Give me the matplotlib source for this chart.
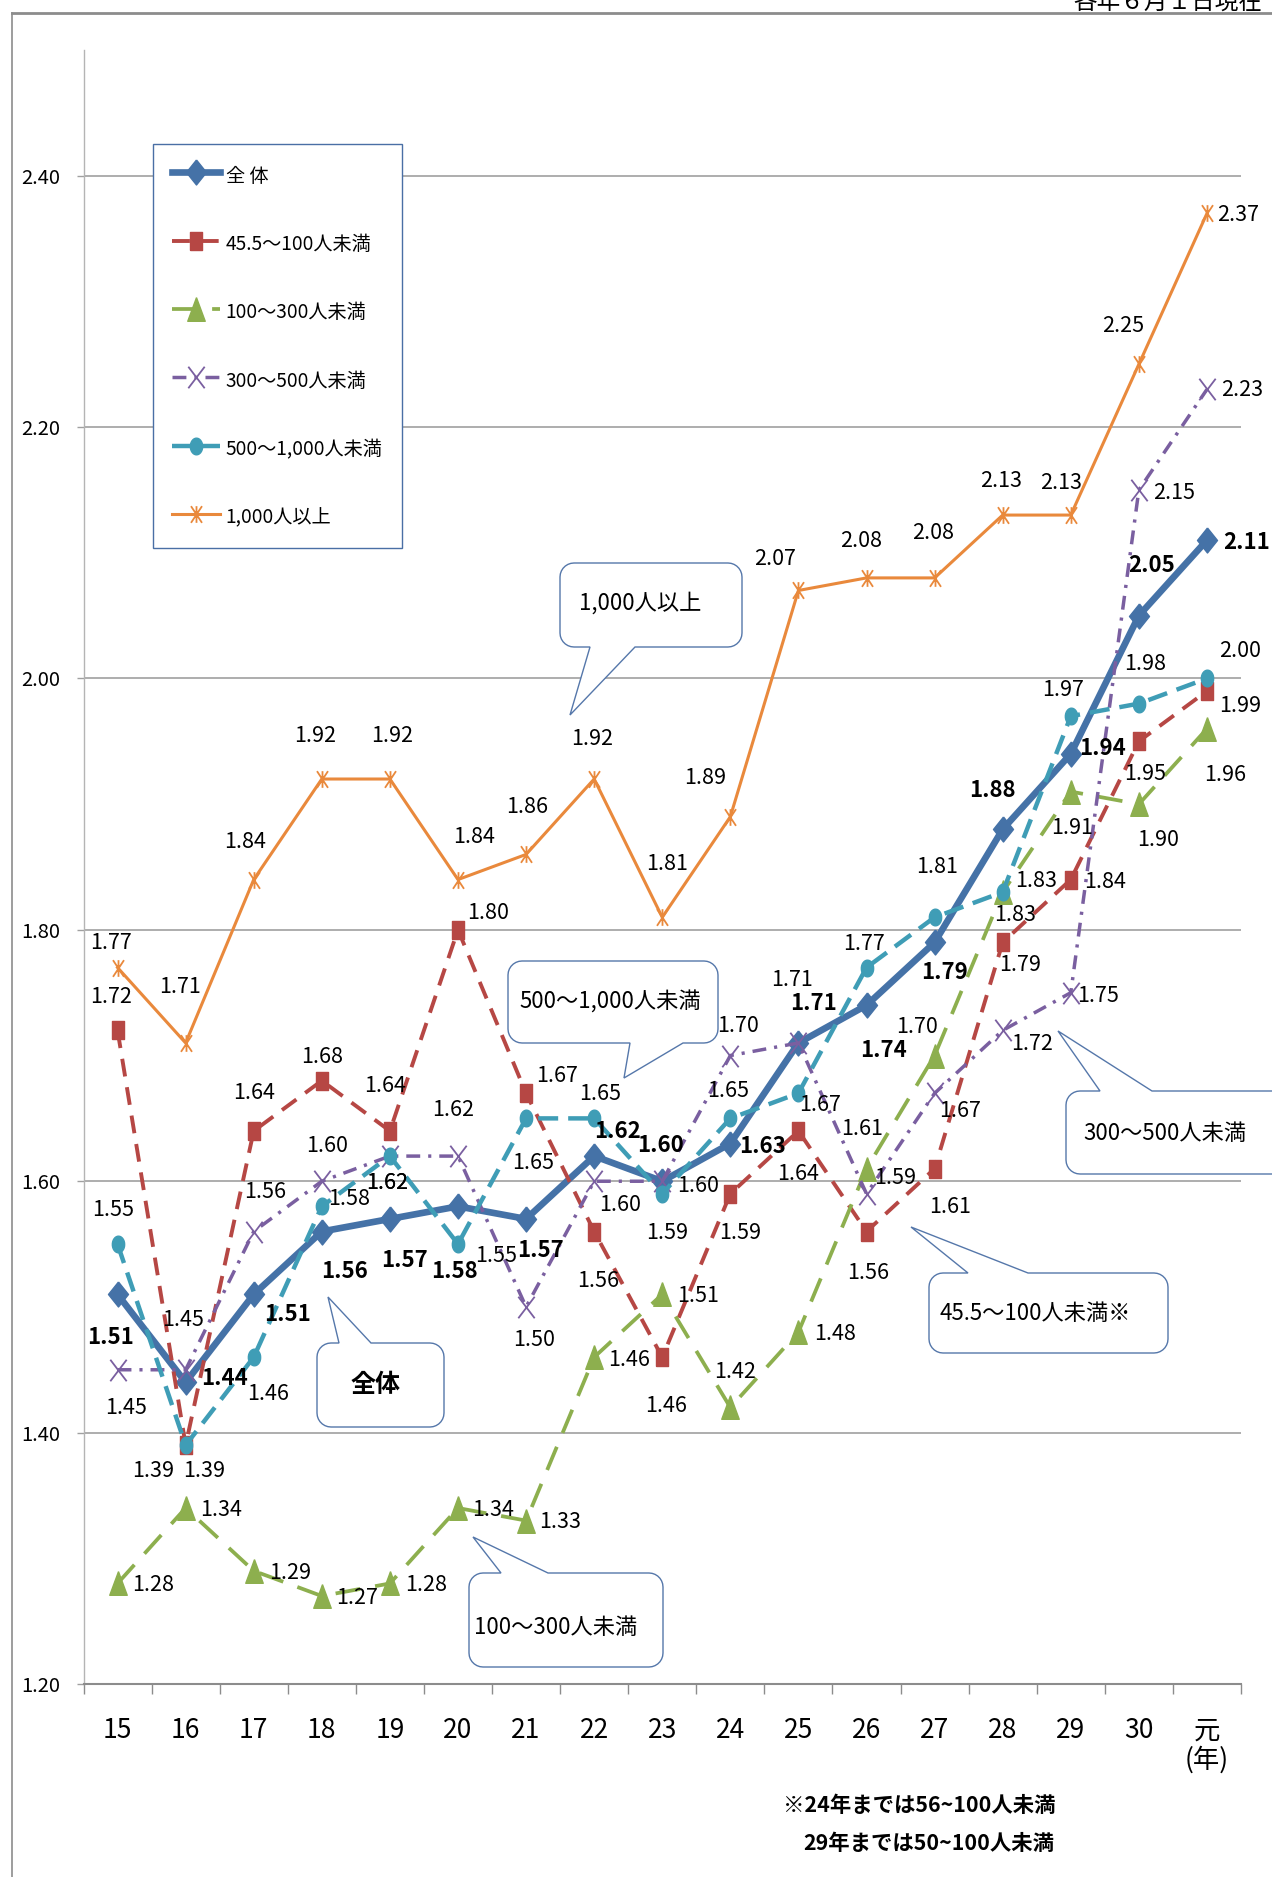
# -*- coding: utf-8 -*-
# employment rate by company size, line chart with callouts
import numpy as np
import matplotlib
matplotlib.use("Agg")
import matplotlib.pyplot as plt
from matplotlib.path import Path
from matplotlib.patches import Polygon
from matplotlib.lines import Line2D

plt.rcParams['font.family'] = ['Noto Sans CJK JP', 'DejaVu Sans']

# %% data
years = ['15', '16', '17', '18', '19', '20', '21', '22', '23', '24',
         '25', '26', '27', '28', '29', '30', '元\n(年)']
total = [1.51, 1.44, 1.51, 1.56, 1.57, 1.58, 1.57, 1.62, 1.60, 1.63,
         1.71, 1.74, 1.79, 1.88, 1.94, 2.05, 2.11]
s45 = [1.72, 1.39, 1.64, 1.68, 1.64, 1.80, 1.67, 1.56, 1.46, 1.59,
       1.64, 1.56, 1.61, 1.79, 1.84, 1.95, 1.99]
s100 = [1.28, 1.34, 1.29, 1.27, 1.28, 1.34, 1.33, 1.46, 1.51, 1.42,
        1.48, 1.61, 1.70, 1.83, 1.91, 1.90, 1.96]
s300 = [1.45, 1.45, 1.56, 1.60, 1.62, 1.62, 1.50, 1.60, 1.60, 1.70,
        1.71, 1.59, 1.67, 1.72, 1.75, 2.15, 2.23]
s500 = [1.55, 1.39, 1.46, 1.58, 1.62, 1.55, 1.65, 1.65, 1.59, 1.65,
        1.67, 1.77, 1.81, 1.83, 1.97, 1.98, 2.00]
s1000 = [1.77, 1.71, 1.84, 1.92, 1.92, 1.84, 1.86, 1.92, 1.81, 1.89,
         2.07, 2.08, 2.08, 2.13, 2.13, 2.25, 2.37]
names = ['全 体', '45.5～100人未満', '100～300人未満', '300～500人未満',
         '500～1,000人未満', '1,000人以上']
yticks = [1.20, 1.40, 1.60, 1.80, 2.00, 2.20, 2.40]

# label offsets (pixels, dy downward)
off_total = [(-7, 43), (39, -4), (34, 20), (23, 40), (15, 42), (-4, 65), (14, 32), (23, -25), (-2, -36),
             (32, 3), (15, -39), (17, 45), (10, 30), (-10, -39), (32, -5), (13, -50), (40, 2)]
off_45 = [(-6, -33), (-33, 26), (0, -38), (0, -24), (-5, -45), (30, -17), (31, -17), (4, 49), (4, 49),
          (10, 39), (0, 43), (2, 41), (15, 38), (17, 23), (34, 2), (6, 33), (33, 15)]
off_100 = [(36, 2), (35, 2), (36, 2), (35, 2), (36, 2), (35, 2), (34, 1), (35, 3), (36, 2),
           (5, -35), (37, 2), (-4, -40), (-18, -29), (12, 23), (1, 36), (19, 36), (18, 46)]
off_300 = [(9, 38), (-3, -50), (11, -40), (5, -35), (-3, 27), (-5, -46), (8, 33), (26, 24), (36, 5),
           (8, -30), (-6, -63), (29, -16), (25, 18), (29, 14), (27, 3), (35, 3), (35, 1)]
off_500 = [(-4, -34), (18, 26), (14, 37), (27, -7), (-3, 27), (38, 12), (7, 45), (6, -24), (5, 39),
           (-2, -27), (22, 12), (-3, -24), (2, -50), (33, -11), (-8, -26), (6, -40), (33, -27)]
off_1000 = [(-7, -25), (-6, -56), (-9, -38), (-7, -43), (2, -43), (16, -43), (1, -47), (-2, -40), (5, -53),
            (-25, -39), (-23, -31), (-5, -37), (-2, -45), (-2, -34), (-10, -32), (-16, -38), (31, 2)]

# %% markers
m_diamond = [(0, 1), (0.8, 0), (0, -1), (-0.8, 0), (0, 1)]
m_rect = [(-0.32, -0.5), (0.32, -0.5), (0.32, 0.5), (-0.32, 0.5), (-0.32, -0.5)]
m_tri = [(0, 0.5), (0.37, -0.5), (-0.37, -0.5), (0, 0.5)]
m_x = Path([(-0.38, -0.5), (0.38, 0.5), (-0.38, 0.5), (0.38, -0.5)],
           [Path.MOVETO, Path.LINETO, Path.MOVETO, Path.LINETO])
t = np.linspace(0, 2 * np.pi, 30)
m_ell = list(zip(0.37 * np.cos(t), 0.5 * np.sin(t)))
m_star = Path([(-0.33, -0.5), (0.33, 0.5), (-0.33, 0.5), (0.33, -0.5), (0, -0.5), (0, 0.5)],
              [Path.MOVETO, Path.LINETO, Path.MOVETO, Path.LINETO, Path.MOVETO, Path.LINETO])

W, H = 1272, 1877
fig = plt.figure(figsize=(W / 100, H / 100), dpi=100)
fig.patch.set_facecolor('white')
ax = fig.add_axes([83.5 / W, 1 - 1684 / H, (1241 - 83.5) / W, (1684 - 50) / H])

x = np.arange(len(years))
series = [
    (total, dict(color='#4572A7', lw=4.8, ls='-', marker=m_diamond, ms=18), off_total, True),
    (s45, dict(color='#B64744', lw=2.8, ls=(0, (4.6, 2.8)), marker=m_rect, ms=13.5), off_45, False),
    (s100, dict(color='#8DAF4E', lw=2.7, ls=(0, (6.7, 4.0)), marker=m_tri, ms=17), off_100, False),
    (s300, dict(color='#7A5FA0', lw=2.5, ls=(0, (4.0, 2.3, 0.9, 2.3)), marker=m_x, ms=15.5,
                mfc='none', mew=1.3), off_300, False),
    (s500, dict(color='#3F9DB6', lw=3.2, ls=(0, (4.5, 2.25)), marker=m_ell, ms=12), off_500, False),
    (s1000, dict(color='#E9893C', lw=2.2, ls='-', marker=m_star, ms=12, mfc='none', mew=1.3), off_1000, False),
]

handles = []
for k, (vals, st, offs, bold) in enumerate(series):
    h, = ax.plot(x, vals, zorder=3 + k, **st)
    handles.append(h)

for vals, st, offs, bold in series:
    for i, v in enumerate(vals):
        ax.annotate(f"{v:.2f}", xy=(x[i], v), xytext=(offs[i][0], -offs[i][1]),
                    textcoords='offset pixels', ha='center', va='center',
                    fontsize=16 if bold else 15.5, fontweight='bold' if bold else 'normal',
                    color='black', zorder=20)

ax.set_xlim(-0.5, len(years) - 0.5)
ax.set_ylim(1.2, 2.5)
ax.set_yticks(yticks)
ax.set_yticklabels([f"{v:.2f}" for v in yticks], fontsize=14.5)
ax.set_xticks(x)
ax.set_xticklabels(years, fontsize=19, linespacing=1.1)
ax.set_xticks(np.arange(-0.5, len(years)), minor=True)
ax.tick_params(axis='x', which='major', length=0, pad=24)
ax.tick_params(axis='x', which='minor', length=7, width=1, color='#8C8C8C', direction='out')
ax.tick_params(axis='y', length=5, width=1, color='#A0A0A0', pad=12)
ax.yaxis.grid(True, color='#A0A0A0', lw=1.2)
ax.set_axisbelow(True)
for s in ['top', 'right']:
    ax.spines[s].set_visible(False)
ax.spines['left'].set_color('#B4B4B4')
ax.spines['left'].set_linewidth(1.0)
ax.spines['bottom'].set_color('#8C8C8C')
ax.spines['bottom'].set_linewidth(1.5)

leg = ax.legend(handles, names, loc='upper left', bbox_to_anchor=(152.7 / W, 1 - 144 / H),
                bbox_transform=fig.transFigure, fontsize=13.8, frameon=True, fancybox=False,
                edgecolor='#4A6FA5', framealpha=1, borderpad=1.0, handlelength=2.5,
                handleheight=1.57, labelspacing=2.3, handletextpad=0.31, borderaxespad=0,
                numpoints=1)
leg.get_frame().set_linewidth(1.0)
leg.set_zorder(30)


# %% callouts
def bubble(x0, y0, x1, y1, side, b0, b1, tip, r=14):
    pts = []

    def arc(cx, cy, a0, a1):
        for a in np.radians(np.linspace(a0, a1, 8)):
            pts.append((cx + r * np.cos(a), cy + r * np.sin(a)))
    arc(x0 + r, y0 + r, 180, 270)
    if side == 'top':
        pts.extend([(b0, y0), tip, (b1, y0)])
    arc(x1 - r, y0 + r, 270, 360)
    arc(x1 - r, y1 - r, 0, 90)
    if side == 'bottom':
        pts.extend([(b1, y1), tip, (b0, y1)])
    arc(x0 + r, y1 - r, 90, 180)
    xy = [(px / W, 1 - py / H) for px, py in pts]
    fig.add_artist(Polygon(xy, closed=True, facecolor='white', edgecolor='#5577AA',
                           lw=1.0, transform=fig.transFigure, zorder=40))


callouts = [
    ('1,000人以上', (560, 563, 742, 647), 'bottom', 590, 635, (570, 715), (640, 603), 'normal'),
    ('500～1,000人未満', (508, 961, 718, 1043), 'bottom', 630, 683, (624, 1078), (610, 1002), 'normal'),
    ('300～500人未満', (1066, 1091, 1290, 1174), 'top', 1100, 1152, (1058, 1031), (1165, 1133), 'normal'),
    ('45.5～100人未満※', (929, 1273, 1168, 1353), 'top', 968, 1028, (911, 1227), (1035, 1313), 'normal'),
    ('全体', (317, 1343, 444, 1427), 'top', 339, 371, (328, 1297), (376, 1385), 'bold'),
    ('100～300人未満', (469, 1573, 663, 1667), 'top', 501, 548, (473, 1537), (556, 1628), 'normal'),
]
for txt, (bx0, by0, bx1, by1), side, b0, b1, tip, (tx, ty), wt in callouts:
    bubble(bx0, by0, bx1, by1, side, b0, b1, tip)
    fig.text(tx / W, 1 - ty / H, txt, ha='center', va='center', fontsize=18 if wt == 'bold' else 16,
             fontweight=wt, zorder=41)

# %% frame and notes
fig.add_artist(Line2D([12 / W, 1], [1 - 12.5 / H] * 2, color='#8C8C8C', lw=2,
                      transform=fig.transFigure))
fig.add_artist(Line2D([12 / W] * 2, [0, 1 - 12.5 / H], color='#8C8C8C', lw=1.2,
                      transform=fig.transFigure))
fig.text(1262 / W, 1 - 8.5 / H, '各年６月１日現在', ha='right', va='baseline', fontsize=17,
         family=['Noto Sans CJK JP', 'DejaVu Sans'])
fig.text(783 / W, 1 - 1805 / H, '※24年までは56~100人未満', ha='left', va='center',
         fontsize=15.4, fontweight='bold')
fig.text(803 / W, 1 - 1843 / H, '29年までは50~100人未満', ha='left', va='center',
         fontsize=15.4, fontweight='bold')

fig.savefig('out.png', dpi=100)
